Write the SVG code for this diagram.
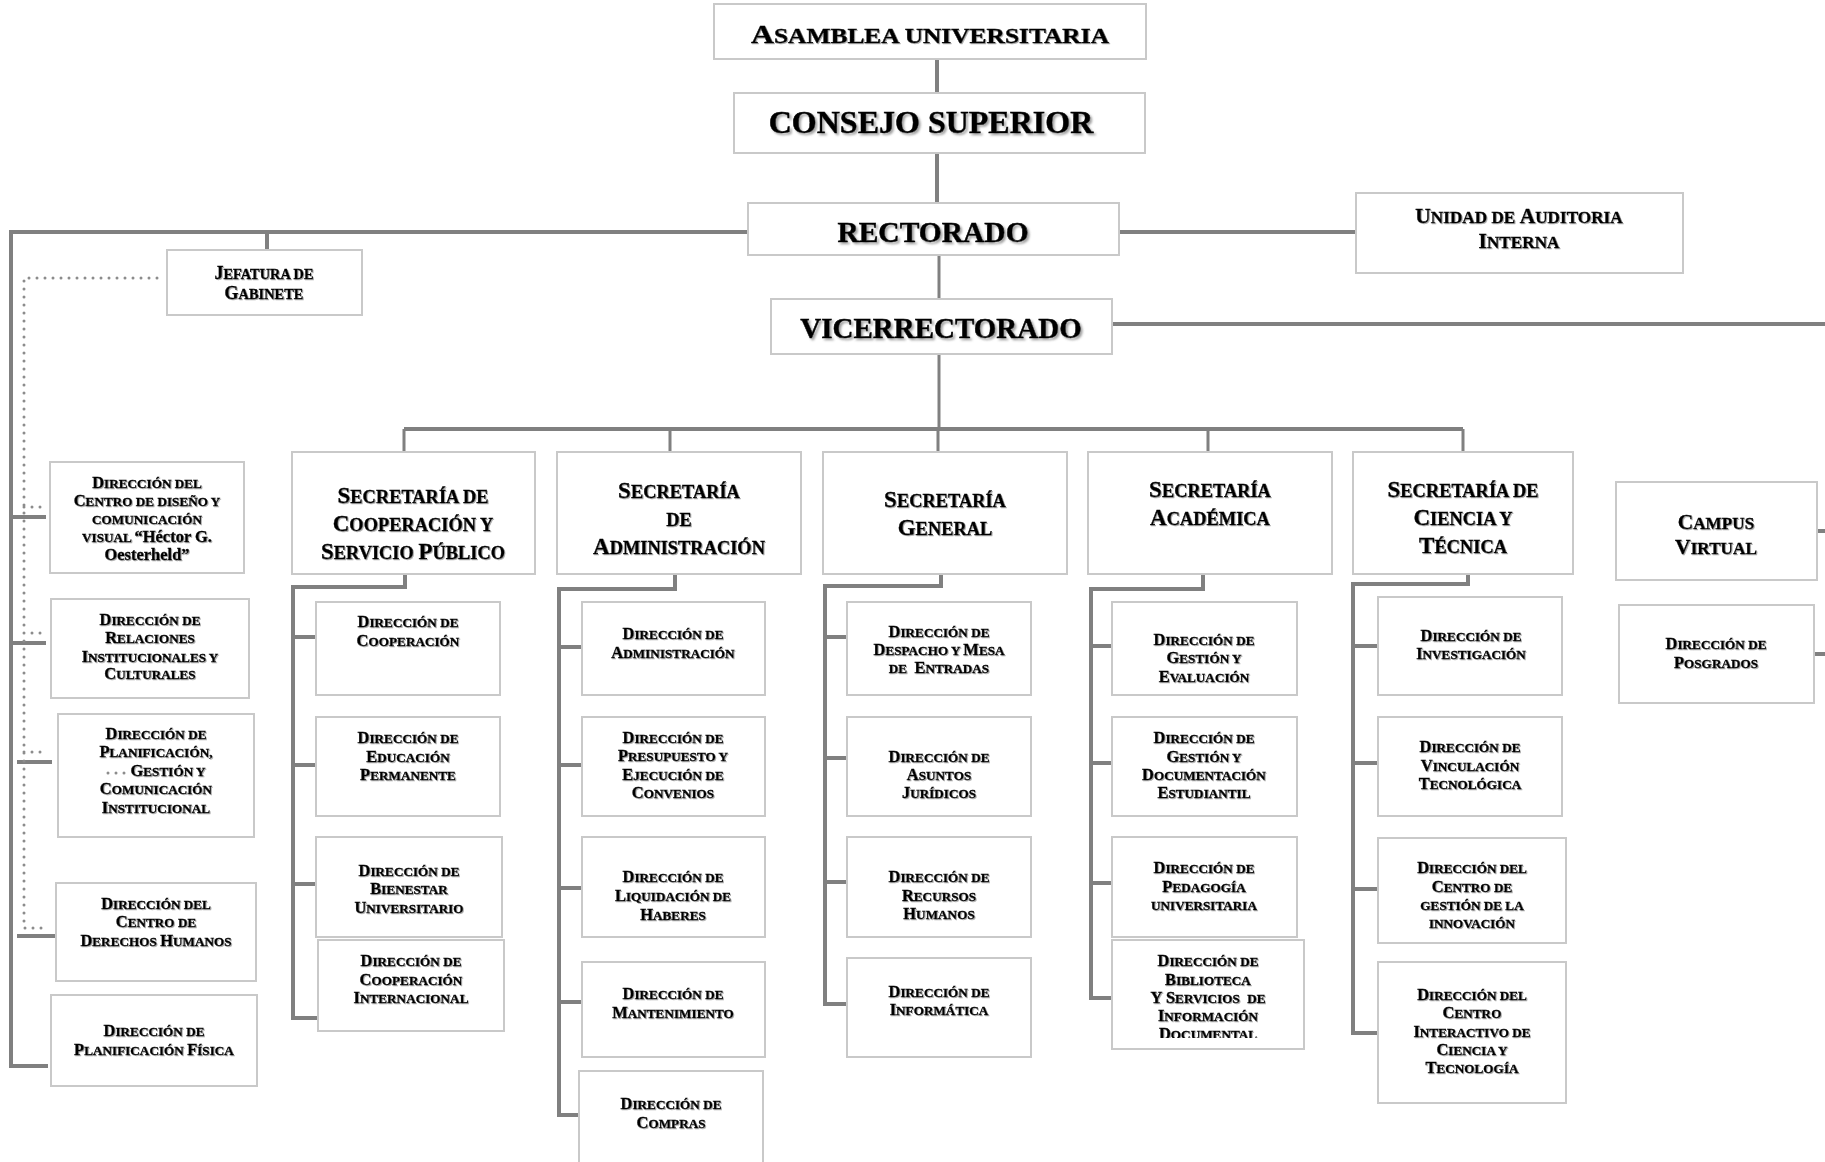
<svg xmlns="http://www.w3.org/2000/svg" width="1825" height="1162" viewBox="0 0 1825 1162">
<defs>
<style>
.b{fill:#fff;stroke:#c9c9c9;stroke-width:2}
.t{font-family:"Liberation Serif","Times New Roman",serif;font-weight:bold;fill:#000;stroke:#000;stroke-width:0.35px;text-anchor:middle;filter:url(#sh)}
.T{font-family:"Liberation Serif","Times New Roman",serif;font-weight:bold;fill:#000;stroke:#000;stroke-width:0.5px;text-anchor:middle;filter:url(#shb)}
.s{font-size:80%}
.f{font-size:16.5px}
.g{font-size:23px}
.c{stroke:#808080;stroke-width:4;fill:none}
.c3{stroke:#808080;stroke-width:3;fill:none}
.d{stroke:#8c8c8c;stroke-width:3;stroke-dasharray:0 8;stroke-linecap:round;fill:none}
</style>
<filter id="sh" x="-10%" y="-10%" width="120%" height="130%"><feDropShadow dx="1" dy="1" stdDeviation="0.6" flood-color="#666" flood-opacity="0.55"/></filter>
<filter id="shb" x="-10%" y="-10%" width="120%" height="130%"><feDropShadow dx="2" dy="2" stdDeviation="1" flood-color="#666" flood-opacity="0.6"/></filter>
<clipPath id="cb"><rect x="1112" y="940" width="192" height="98"/></clipPath>
</defs>
<rect width="1825" height="1162" fill="#fff"/>

<g id="connectors">
<path class="c" d="M937,59 V93 M937,153 V203"/>
<path class="c" d="M747,232 H11 V1066 H48"/>
<path class="c" d="M267,232 V250"/>
<path class="c" d="M1119,232 H1356"/>
<path class="c3" d="M939,255 V299"/>
<path class="c" d="M1112,324 H1825"/>
<path class="c3" d="M939,354 V429"/>
<path class="c" stroke-width="5" d="M404,429 H1463"/>
<path class="c3" d="M404,429 V456 M670,429 V456 M938,429 V456 M1208,429 V456 M1463,429 V456"/>
<path class="c" d="M11,517 H46 M11,643 H46 M17,762 H52 M17,936 H55"/>
<path class="d" d="M157,278 H24 V928 H43 M24,507 H43 M24,633 H43 M24,752 H43"/>
<path class="c" d="M405,574 V587 H293 V1018 H318 M293,637 H316 M293,765 H316 M293,884 H316"/>
<path class="c" d="M675,574 V589 H559 V1115 H579 M559,647 H582 M559,765 H582 M559,888 H582 M559,1002 H582"/>
<path class="c" d="M941,574 V586 H825 V1004 H847 M825,637 H847 M825,758 H847 M825,882 H847"/>
<path class="c" d="M1203,574 V589 H1091 V998 H1112 M1091,646 H1112 M1091,763 H1112 M1091,883 H1112"/>
<path class="c" d="M1468,574 V584 H1353 V1033 H1378 M1353,646 H1378 M1353,763 H1378 M1353,889 H1378"/>
<path class="c" d="M1817,531 H1825 M1814,654 H1825"/>
</g>

<g id="n_asam"><rect class="b" x="714" y="4" width="432" height="55"/>
<text class="t" font-size="25" textLength="358" lengthAdjust="spacingAndGlyphs" x="930" y="43">A<tspan class="s">SAMBLEA UNIVERSITARIA</tspan></text></g>
<g id="n_cons"><rect class="b" x="734" y="93" width="411" height="60"/>
<text class="T" font-size="32" x="931" y="133">CONSEJO SUPERIOR</text></g>
<g id="n_rect"><rect class="b" x="748" y="203" width="371" height="52"/>
<text class="T" font-size="29.5" x="933" y="242">RECTORADO</text></g>
<g id="n_unid"><rect class="b" x="1356" y="193" width="327" height="80"/>
<text class="t" font-size="21.5"><tspan x="1519" y="223">U<tspan class="s">NIDAD DE </tspan>A<tspan class="s">UDITORIA</tspan></tspan><tspan x="1519" y="248">I<tspan class="s">NTERNA</tspan></tspan></text></g>
<g id="n_vice"><rect class="b" x="771" y="299" width="341" height="55"/>
<text class="T" font-size="29" x="941" y="338">VICERRECTORADO</text></g>

<g id="n_jef"><rect class="b" x="167" y="250" width="195" height="65"/>
<text class="t" font-size="18"><tspan x="264" y="279">J<tspan class="s">EFATURA DE</tspan></tspan><tspan x="264" y="299">G<tspan class="s">ABINETE</tspan></tspan></text></g>
<g id="n_cdv"><rect class="b" x="50" y="462" width="194" height="111"/>
<text class="t f"><tspan x="147" y="488">D<tspan class="s">IRECCIÓN DEL</tspan></tspan><tspan x="147" y="506">C<tspan class="s">ENTRO DE DISEÑO Y</tspan></tspan><tspan x="147" y="524"><tspan class="s">COMUNICACIÓN</tspan></tspan><tspan x="147" y="542"><tspan class="s">VISUAL </tspan>“Héctor G.</tspan><tspan x="147" y="560">Oesterheld”</tspan></text></g>
<g id="n_rel"><rect class="b" x="51" y="599" width="198" height="99"/>
<text class="t f"><tspan x="150" y="625">D<tspan class="s">IRECCIÓN DE</tspan></tspan><tspan x="150" y="643">R<tspan class="s">ELACIONES</tspan></tspan><tspan x="150" y="662">I<tspan class="s">NSTITUCIONALES Y</tspan></tspan><tspan x="150" y="679">C<tspan class="s">ULTURALES</tspan></tspan></text></g>
<g id="n_plan"><rect class="b" x="58" y="714" width="196" height="123"/>
<text class="t f"><tspan x="156" y="739">D<tspan class="s">IRECCIÓN DE</tspan></tspan><tspan x="156" y="757">P<tspan class="s">LANIFICACIÓN,</tspan></tspan><tspan x="168" y="776">G<tspan class="s">ESTIÓN Y</tspan></tspan><tspan x="156" y="794">C<tspan class="s">OMUNICACIÓN</tspan></tspan><tspan x="156" y="813">I<tspan class="s">NSTITUCIONAL</tspan></tspan></text>
<path class="d" d="M108,773 H125"/></g>
<g id="n_ddhh"><rect class="b" x="56" y="883" width="200" height="98"/>
<text class="t f"><tspan x="156" y="909">D<tspan class="s">IRECCIÓN DEL</tspan></tspan><tspan x="156" y="927">C<tspan class="s">ENTRO DE</tspan></tspan><tspan x="156" y="946">D<tspan class="s">ERECHOS </tspan>H<tspan class="s">UMANOS</tspan></tspan></text></g>
<g id="n_fis"><rect class="b" x="51" y="995" width="206" height="91"/>
<text class="t f"><tspan x="154" y="1036">D<tspan class="s">IRECCIÓN DE</tspan></tspan><tspan x="154" y="1055">P<tspan class="s">LANIFICACIÓN </tspan>F<tspan class="s">ÍSICA</tspan></tspan></text></g>

<g id="n_sc"><rect class="b" x="292" y="452" width="243" height="122"/>
<text class="t g"><tspan x="413" y="503">S<tspan class="s">ECRETARÍA DE</tspan></tspan><tspan x="413" y="531">C<tspan class="s">OOPERACIÓN Y</tspan></tspan><tspan x="413" y="559">S<tspan class="s">ERVICIO </tspan>P<tspan class="s">ÚBLICO</tspan></tspan></text></g>
<g id="n_sa"><rect class="b" x="557" y="452" width="244" height="122"/>
<text class="t g"><tspan x="679" y="498">S<tspan class="s">ECRETARÍA</tspan></tspan><tspan x="679" y="526"><tspan class="s">DE</tspan></tspan><tspan x="679" y="554">A<tspan class="s">DMINISTRACIÓN</tspan></tspan></text></g>
<g id="n_sg"><rect class="b" x="823" y="452" width="244" height="122"/>
<text class="t g"><tspan x="945" y="507">S<tspan class="s">ECRETARÍA</tspan></tspan><tspan x="945" y="535">G<tspan class="s">ENERAL</tspan></tspan></text></g>
<g id="n_sac"><rect class="b" x="1088" y="452" width="244" height="122"/>
<text class="t g"><tspan x="1210" y="497">S<tspan class="s">ECRETARÍA</tspan></tspan><tspan x="1210" y="525">A<tspan class="s">CADÉMICA</tspan></tspan></text></g>
<g id="n_sct"><rect class="b" x="1353" y="452" width="220" height="122"/>
<text class="t g"><tspan x="1463" y="497">S<tspan class="s">ECRETARÍA DE</tspan></tspan><tspan x="1463" y="525">C<tspan class="s">IENCIA Y</tspan></tspan><tspan x="1463" y="553">T<tspan class="s">ÉCNICA</tspan></tspan></text></g>
<g id="n_cv"><rect class="b" x="1616" y="482" width="201" height="98"/>
<text class="t" font-size="21.5"><tspan x="1716" y="529">C<tspan class="s">AMPUS</tspan></tspan><tspan x="1716" y="554">V<tspan class="s">IRTUAL</tspan></tspan></text></g>

<g id="n_dc"><rect class="b" x="316" y="602" width="184" height="93"/>
<text class="t f"><tspan x="408" y="627">D<tspan class="s">IRECCIÓN DE</tspan></tspan><tspan x="408" y="646">C<tspan class="s">OOPERACIÓN</tspan></tspan></text></g>
<g id="n_dep"><rect class="b" x="316" y="717" width="184" height="99"/>
<text class="t f"><tspan x="408" y="743">D<tspan class="s">IRECCIÓN DE</tspan></tspan><tspan x="408" y="762">E<tspan class="s">DUCACIÓN</tspan></tspan><tspan x="408" y="780">P<tspan class="s">ERMANENTE</tspan></tspan></text></g>
<g id="n_dbu"><rect class="b" x="316" y="837" width="186" height="100"/>
<text class="t f"><tspan x="409" y="876">D<tspan class="s">IRECCIÓN DE</tspan></tspan><tspan x="409" y="894">B<tspan class="s">IENESTAR</tspan></tspan><tspan x="409" y="913">U<tspan class="s">NIVERSITARIO</tspan></tspan></text></g>
<g id="n_dci"><rect class="b" x="318" y="940" width="186" height="91"/>
<text class="t f"><tspan x="411" y="966">D<tspan class="s">IRECCIÓN DE</tspan></tspan><tspan x="411" y="985">C<tspan class="s">OOPERACIÓN</tspan></tspan><tspan x="411" y="1003">I<tspan class="s">NTERNACIONAL</tspan></tspan></text></g>

<g id="n_da"><rect class="b" x="582" y="602" width="183" height="93"/>
<text class="t f"><tspan x="673" y="639">D<tspan class="s">IRECCIÓN DE</tspan></tspan><tspan x="673" y="658">A<tspan class="s">DMINISTRACIÓN</tspan></tspan></text></g>
<g id="n_dp"><rect class="b" x="582" y="717" width="183" height="99"/>
<text class="t f"><tspan x="673" y="743">D<tspan class="s">IRECCIÓN DE</tspan></tspan><tspan x="673" y="761">P<tspan class="s">RESUPUESTO Y</tspan></tspan><tspan x="673" y="780">E<tspan class="s">JECUCIÓN DE</tspan></tspan><tspan x="673" y="798">C<tspan class="s">ONVENIOS</tspan></tspan></text></g>
<g id="n_dl"><rect class="b" x="582" y="837" width="183" height="100"/>
<text class="t f"><tspan x="673" y="882">D<tspan class="s">IRECCIÓN DE</tspan></tspan><tspan x="673" y="901">L<tspan class="s">IQUIDACIÓN DE</tspan></tspan><tspan x="673" y="920">H<tspan class="s">ABERES</tspan></tspan></text></g>
<g id="n_dm"><rect class="b" x="582" y="962" width="183" height="95"/>
<text class="t f"><tspan x="673" y="999">D<tspan class="s">IRECCIÓN DE</tspan></tspan><tspan x="673" y="1018">M<tspan class="s">ANTENIMIENTO</tspan></tspan></text></g>
<g id="n_dco"><rect class="b" x="579" y="1071" width="184" height="100"/>
<text class="t f"><tspan x="671" y="1109">D<tspan class="s">IRECCIÓN DE</tspan></tspan><tspan x="671" y="1128">C<tspan class="s">OMPRAS</tspan></tspan></text></g>

<g id="n_dd"><rect class="b" x="847" y="602" width="184" height="93"/>
<text class="t f"><tspan x="939" y="637">D<tspan class="s">IRECCIÓN DE</tspan></tspan><tspan x="939" y="655">D<tspan class="s">ESPACHO Y </tspan>M<tspan class="s">ESA</tspan></tspan><tspan x="939" y="673"><tspan class="s">DE </tspan><tspan dx="4">E</tspan><tspan class="s">NTRADAS</tspan></tspan></text></g>
<g id="n_daj"><rect class="b" x="847" y="717" width="184" height="99"/>
<text class="t f"><tspan x="939" y="762">D<tspan class="s">IRECCIÓN DE</tspan></tspan><tspan x="939" y="780">A<tspan class="s">SUNTOS</tspan></tspan><tspan x="939" y="798">J<tspan class="s">URÍDICOS</tspan></tspan></text></g>
<g id="n_drh"><rect class="b" x="847" y="837" width="184" height="100"/>
<text class="t f"><tspan x="939" y="882">D<tspan class="s">IRECCIÓN DE</tspan></tspan><tspan x="939" y="901">R<tspan class="s">ECURSOS</tspan></tspan><tspan x="939" y="919">H<tspan class="s">UMANOS</tspan></tspan></text></g>
<g id="n_di"><rect class="b" x="847" y="958" width="184" height="99"/>
<text class="t f"><tspan x="939" y="997">D<tspan class="s">IRECCIÓN DE</tspan></tspan><tspan x="939" y="1015">I<tspan class="s">NFORMÁTICA</tspan></tspan></text></g>

<g id="n_dge"><rect class="b" x="1112" y="602" width="185" height="93"/>
<text class="t f"><tspan x="1204" y="645">D<tspan class="s">IRECCIÓN DE</tspan></tspan><tspan x="1204" y="663">G<tspan class="s">ESTIÓN Y</tspan></tspan><tspan x="1204" y="682">E<tspan class="s">VALUACIÓN</tspan></tspan></text></g>
<g id="n_dgd"><rect class="b" x="1112" y="717" width="185" height="99"/>
<text class="t f"><tspan x="1204" y="743">D<tspan class="s">IRECCIÓN DE</tspan></tspan><tspan x="1204" y="762">G<tspan class="s">ESTIÓN Y</tspan></tspan><tspan x="1204" y="780">D<tspan class="s">OCUMENTACIÓN</tspan></tspan><tspan x="1204" y="798">E<tspan class="s">STUDIANTIL</tspan></tspan></text></g>
<g id="n_dpu"><rect class="b" x="1112" y="837" width="185" height="100"/>
<text class="t f"><tspan x="1204" y="873">D<tspan class="s">IRECCIÓN DE</tspan></tspan><tspan x="1204" y="892">P<tspan class="s">EDAGOGÍA</tspan></tspan><tspan x="1204" y="910"><tspan class="s">UNIVERSITARIA</tspan></tspan></text></g>
<g id="n_db"><rect class="b" x="1112" y="940" width="192" height="109"/>
<text class="t f" clip-path="url(#cb)"><tspan x="1208" y="966">D<tspan class="s">IRECCIÓN DE</tspan></tspan><tspan x="1208" y="985">B<tspan class="s">IBLIOTECA</tspan></tspan><tspan x="1208" y="1003">Y S<tspan class="s">ERVICIOS </tspan><tspan class="s" dx="4">DE</tspan></tspan><tspan x="1208" y="1021">I<tspan class="s">NFORMACIÓN</tspan></tspan><tspan x="1208" y="1039">D<tspan class="s">OCUMENTAL</tspan></tspan></text></g>

<g id="n_dinv"><rect class="b" x="1378" y="597" width="184" height="98"/>
<text class="t f"><tspan x="1471" y="641">D<tspan class="s">IRECCIÓN DE</tspan></tspan><tspan x="1471" y="659">I<tspan class="s">NVESTIGACIÓN</tspan></tspan></text></g>
<g id="n_dvt"><rect class="b" x="1378" y="717" width="184" height="99"/>
<text class="t f"><tspan x="1470" y="752">D<tspan class="s">IRECCIÓN DE</tspan></tspan><tspan x="1470" y="771">V<tspan class="s">INCULACIÓN</tspan></tspan><tspan x="1470" y="789">T<tspan class="s">ECNOLÓGICA</tspan></tspan></text></g>
<g id="n_dcgi"><rect class="b" x="1378" y="838" width="188" height="105"/>
<text class="t f"><tspan x="1472" y="873">D<tspan class="s">IRECCIÓN DEL</tspan></tspan><tspan x="1472" y="892">C<tspan class="s">ENTRO DE</tspan></tspan><tspan x="1472" y="910"><tspan class="s">GESTIÓN DE LA</tspan></tspan><tspan x="1472" y="928"><tspan class="s">INNOVACIÓN</tspan></tspan></text></g>
<g id="n_dcic"><rect class="b" x="1378" y="962" width="188" height="141"/>
<text class="t f"><tspan x="1472" y="1000">D<tspan class="s">IRECCIÓN DEL</tspan></tspan><tspan x="1472" y="1018">C<tspan class="s">ENTRO</tspan></tspan><tspan x="1472" y="1037">I<tspan class="s">NTERACTIVO DE</tspan></tspan><tspan x="1472" y="1055">C<tspan class="s">IENCIA Y</tspan></tspan><tspan x="1472" y="1073">T<tspan class="s">ECNOLOGÍA</tspan></tspan></text></g>

<g id="n_dpos"><rect class="b" x="1619" y="605" width="195" height="98"/>
<text class="t f"><tspan x="1716" y="649">D<tspan class="s">IRECCIÓN DE</tspan></tspan><tspan x="1716" y="668">P<tspan class="s">OSGRADOS</tspan></tspan></text></g>
</svg>
